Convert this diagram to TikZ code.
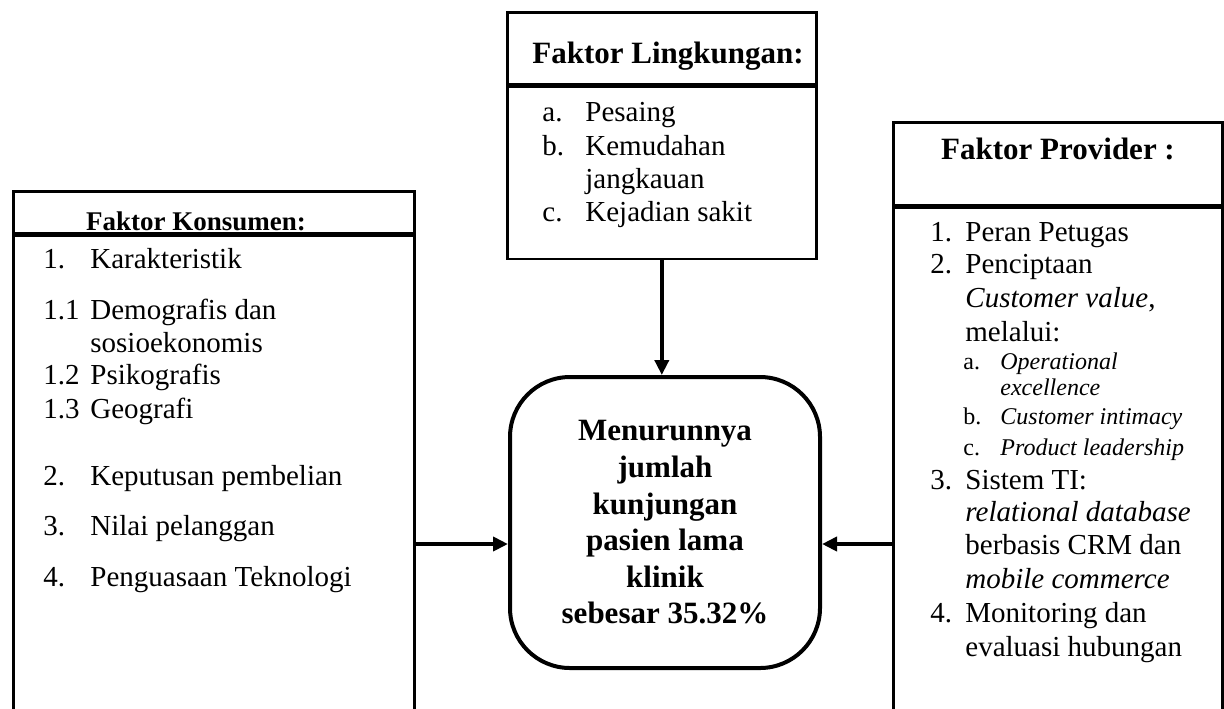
\documentclass[tikz,border=0pt]{standalone}
\usepackage{fontspec}
\setmainfont{Liberation Serif}
\usepackage{xcolor}
\usetikzlibrary{arrows.meta,calc}
\newcommand{\numbox}[2][23.5pt]{\makebox[#1][l]{#2}}
\tikzset{
  frame/.style={draw, line width=1.3pt, inner sep=0pt, anchor=north west},
  item/.style={anchor=base west, inner sep=0pt, font=\fontsize{14.5}{17}\selectfont},
  subitem/.style={item, font=\fontsize{12}{14}\selectfont},
  head/.style={anchor=base, inner sep=0pt, font=\fontsize{15.5}{18}\selectfont\bfseries},
  goalbox/.style={draw, line width=2pt, rounded corners=30pt, align=center,
    minimum width=155pt, minimum height=145.5pt, inner sep=0pt,
    font=\fontsize{15.5}{18.3}\selectfont\bfseries},
  flow/.style={line width=2pt, -{Triangle[length=7.5pt,width=7pt]}}
}

\begin{document}
\begin{tikzpicture}[x=0.5pt,y=-0.5pt]
   \useasboundingbox (0,0) rectangle (1224,708);
   \clip (0,0) rectangle (1224,708);

   % faktor lingkungan
   \node[frame, minimum width=154.5pt, minimum height=36pt] (lingHead) at (506,11) {};
   \node[frame, minimum width=154.5pt, minimum height=86pt] (lingBody) at (lingHead.south west) {};
   \node[head] (lingTitle) at (668,63) {Faktor Lingkungan:};
   \foreach \yy/\lab/\txt [count=\i] in {121/a./Pesaing, 155/b./Kemudahan,
       188//jangkauan, 221/c./Kejadian sakit} {
    \node[item] (ling\i) at (542,\yy) {\numbox[21.5pt]{\lab}\txt};
   }

   % faktor konsumen
   \node[frame, minimum width=200.5pt, minimum height=21pt] (konsHead) at (12,190) {};
   \node[frame, minimum width=200.5pt, minimum height=250pt] (konsBody) at (konsHead.south west) {};
   \node[head, font=\fontsize{13.5}{16}\selectfont\bfseries] (konsTitle) at (196,230) {Faktor Konsumen:};
   \foreach \yy/\lab/\txt [count=\i] in {268/1./Karakteristik, 319/1.1/Demografis dan,
       352//sosioekonomis, 384/1.2/Psikografis, 418/1.3/Geografi,
       485/2./Keputusan pembelian, 535/3./Nilai pelanggan, 586/4./Penguasaan Teknologi} {
    \node[item] (kons\i) at (43,\yy) {\numbox{\lab}\txt};
   }

   % faktor provider
   \node[frame, minimum width=164.5pt, minimum height=41.5pt] (provHead) at (892,121) {};
   \node[frame, minimum width=164.5pt, minimum height=260pt] (provBody) at (provHead.south west) {};
   \node[head] (provTitle) at (1058,159) {Faktor Provider :};
   \foreach \yy/\lab/\txt [count=\i] in {241/1./Peran Petugas, 273/2./Penciptaan,
       307//{\textit{Customer value},}, 341//melalui:, 489/3./Sistem TI:,
       521//\textit{relational database}, 554//berbasis CRM dan,
       588//\textit{mobile commerce}, 622/4./Monitoring dan, 656//evaluasi hubungan} {
    \node[item] (prov\i) at (930,\yy) {\numbox[17.5pt]{\lab}\txt};
   }
   \foreach \yy/\lab/\txt [count=\i] in {369/a./Operational, 395//excellence,
       424/b./Customer intimacy, 455/c./Product leadership} {
    \node[subitem] (provSub\i) at (963,\yy) {\numbox[18.5pt]{\lab}\textit{\txt}};
   }

   % tengah
   \node[goalbox] (goal) at (665,522.5) {Menurunnya\\jumlah\\kunjungan\\pasien lama\\klinik\\sebesar 35.32\%};

   \coordinate (mid) at (0,544);
   \draw[flow] (lingBody.south) -- (lingBody.south |- goal.north);
   \draw[flow] (konsBody.east |- mid) -- (goal.west |- mid);
   \draw[flow] (provBody.west |- mid) -- (goal.east |- mid);
  \end{tikzpicture}
\end{document}
